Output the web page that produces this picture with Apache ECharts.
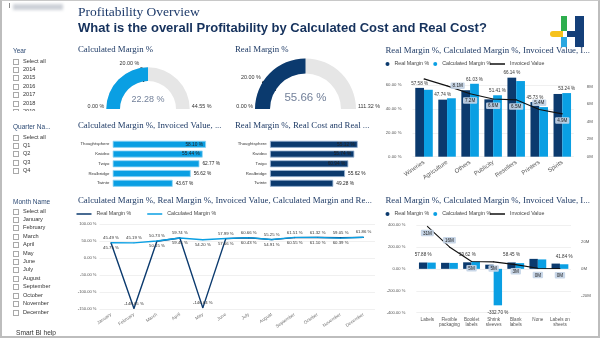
<!DOCTYPE html>
<html>
<head>
<meta charset="utf-8">
<title>Profitability Overview</title>
<script src="https://cdn.jsdelivr.net/npm/echarts@6.0.0/dist/echarts.min.js"></script>
<style>
  html, body { margin: 0; padding: 0; background: #fff; }
  #page { position: relative; width: 600px; height: 340px; overflow: hidden; font-family: "Liberation Sans", Arial, sans-serif; }
  #frame { position: absolute; left: 0; top: 0; width: 596px; height: 335px; border: 2px solid #bdbdbd; border-top: 1px solid #c8c8c8; pointer-events: none; z-index: 5; }
  #chart { position: absolute; left: 0; top: 0; width: 600px; height: 340px; }
  .hdr1 { position: absolute; left: 78px; top: 4px; font-family: "Liberation Serif", "Times New Roman", serif; font-size: 13.5px; line-height: 15px; color: #1d3a6a; white-space: nowrap; z-index: 2; }
  .hdr2 { position: absolute; left: 78px; top: 21px; font-family: "Liberation Sans", Arial, sans-serif; font-weight: bold; font-size: 13px; line-height: 14px; color: #15315c; white-space: nowrap; z-index: 2; }
  .blur { position: absolute; left: 13px; top: 4px; width: 50px; height: 6px; background: #cdd1d8; filter: blur(1.4px); }
  .tick { position: absolute; left: 9px; top: 3px; width: 1px; height: 5px; background: #8a8a8a; }
  .slicer-title { position: absolute; left: 13px; font-size: 6.5px; line-height: 8px; color: #2d4a74; white-space: nowrap; z-index: 2; }
  .row { position: absolute; left: 13px; height: 7px; width: 62px; z-index: 2; }
  .row .box { position: absolute; left: 0; top: 1px; width: 4px; height: 4px; border: 1px solid #a9a9a9; background: #fff; }
  .row .txt { position: absolute; left: 10px; top: 0; font-size: 5.6px; line-height: 7px; color: #333; white-space: nowrap; }
  .help { position: absolute; left: 16px; top: 329px; font-size: 6.6px; line-height: 8px; color: #333; text-decoration: underline; white-space: nowrap; z-index: 2; }
  .logo { position: absolute; z-index: 2; }
</style>
</head>
<body>
<div id="page">
  <div id="chart"></div>
  <div class="tick"></div>
  <div class="blur"></div>
  <div class="hdr1">Profitability Overview</div>
  <div class="hdr2">What is the overall Profitability by Calculated Cost and Real Cost?</div>
  <div class="logo" style="left:561px;top:16px;width:5.5px;height:14.5px;background:#2eae4e;"></div>
  <div class="logo" style="left:550px;top:30.5px;width:13px;height:6px;background:#f6c21c;border-radius:3px 0 0 3px;"></div>
  <div class="logo" style="left:561px;top:36.5px;width:5.5px;height:10px;background:#2aa7e0;"></div>
  <div class="logo" style="left:566.5px;top:30.5px;width:9px;height:6px;background:#143f79;"></div>
  <div class="logo" style="left:575px;top:16px;width:9px;height:30.5px;background:#143f79;"></div>
  <div class="help">Smart BI help</div>
  <div id="frame"></div>
</div>
<script>
// ---- slicer lists ----
const years = ['2014', '2015', '2016', '2017', '2018', '2019'];
const quarters = ['Q1', 'Q2', 'Q3', 'Q4'];
const monthNames = ['January', 'February', 'March', 'April', 'May', 'June', 'July',
  'August', 'September', 'October', 'November', 'December'];

// ---- gauges: Calculated Margin %, Real Margin % ----
const gaugeValues = [22.28, 55.66];
const gaugeMax = [44.55, 111.32];
const gaugeTargets = [20.00, 20.00];

// ---- margin by industry ----
const industries = ['Wineries', 'Agriculture', 'Others', 'Publicity', 'Resellers', 'Printers', 'Spirits'];
const indRealMargin = [57.58, 47.74, 55.60, 48.00, 66.14, 45.73, 52.50];
const indCalcMargin = [56.00, 48.90, 61.03, 51.41, 63.30, 41.50, 53.24];
const indInvoicedM = [8.9, 8.1, 7.2, 6.6, 6.5, 5.4, 4.9];
const indRealLabel = [true, true, false, false, true, true, false];
const indCalcLabel = [false, false, true, true, false, false, true];
const indInvoicedLabelPos = ['', 'right', 'bottom', 'bottom', 'bottom', 'top', 'bottom'];

// ---- margin by customer ----
const customers = ['Thoughtsphere', 'Kwideo', 'Twiyo', 'Realbridge', 'Twinte'];
const custInvoicedM = [9.33, 9.00, 8.67, 7.80, 6.00];
const custCalcMargin = [58.10, 55.44, 62.77, 56.62, 43.67];
const custCalcInside = [true, true, false, false, false];
const custRealCostM = [8.77, 8.43, 7.83, 7.50, 6.33];
const custRealMargin = [55.12, 55.74, 60.94, 55.62, 49.28];
const custRealInside = [true, true, true, false, false];

// ---- margin by month ----
const monthRealMargin = [45.75, -148.65, 50.15, 59.45, -146.64, 57.66, 60.43, 54.91, 60.55, 61.10, 60.39, 61.30];
const monthCalcMargin = [45.49, 45.19, 50.73, 59.74, 54.20, 57.99, 60.66, 55.25, 61.51, 61.32, 59.05, 61.86];
const monthRealLabelPos = ['bottom', 'top', 'bottom', 'bottom', 'top', 'bottom', 'bottom', 'bottom', 'bottom', 'bottom', 'bottom', ''];
const monthCalcLabelPos = ['top', 'top', 'top', 'top', 'bottom', 'top', 'top', 'top', 'top', 'top', 'top', 'top'];

// ---- margin by product type ----
const products = ['Labels', 'Flexible packaging', 'Booklet labels', 'Shrink sleeves', 'Blank labels', 'None', 'Labels on sheets'];
const prodRealMargin = [57.88, 55.00, 59.62, 38.00, 58.45, 91.00, 48.00];
const prodCalcMargin = [57.00, 54.00, 66.00, -332.70, 52.00, 86.00, 41.84];
const prodInvoicedM = [31, 16, 5.4, 5.1, 3.1, 0.4, 0.3];
const prodRealLabel = [true, false, true, false, true, false, false];
const prodCalcLabel = [false, false, false, true, false, false, true];
const prodInvoicedLabelPos = ['bottom', 'top', 'bottom', 'bottom', 'bottom', 'bottom', 'bottom'];

// ---- left-hand slicers ----
const page = document.getElementById('page');
function slicer(title, items, titleY, firstY, step, clipBottom) {
  const t = document.createElement('div');
  t.className = 'slicer-title';
  t.textContent = title;
  t.style.top = (titleY - 4) + 'px';
  page.appendChild(t);
  const top0 = firstY - 5;
  const wrap = document.createElement('div');
  wrap.style.cssText = 'position:absolute;left:0;width:75px;overflow:hidden;z-index:2;top:' + top0 +
    'px;height:' + ((clipBottom || 340) - top0) + 'px;';
  ['Select all'].concat(items).forEach((name, i) => {
    const r = document.createElement('div');
    r.className = 'row';
    r.style.top = (firstY + i * step - 3.5 - top0) + 'px';
    r.innerHTML = '<span class="box"></span><span class="txt"></span>';
    r.querySelector('.txt').textContent = name;
    wrap.appendChild(r);
  });
  page.appendChild(wrap);
}
slicer('Year', years, 51, 61, 8.4, 110.5);
slicer('Quarter Na...', quarters, 127, 137, 8.4);
slicer('Month Name', monthNames, 202, 211, 8.42);

// ---- chart ----
const NAVY = '#0b3a6e', LIGHT = '#0a9fe3', GREY = '#e6e6e6';
const SERIF = '"Liberation Serif", "Times New Roman", serif';
const SANS = '"Liberation Sans", Arial, sans-serif';
const TITLE_COLOR = '#1f3b66';
const LINE_ICON = 'path://M0,0 L30,0 L30,3 L0,3 Z';
const pct = v => v.toFixed(2) + ' %';

const chart = echarts.init(document.getElementById('chart'), null, { renderer: 'canvas' });

function titleAt(text, left, top) {
  return { text, left, top, padding: 0,
    textStyle: { fontFamily: SERIF, fontSize: 8.8, fontWeight: 'normal', color: TITLE_COLOR } };
}
const legendText = { fontFamily: SANS, fontSize: 5.3, color: '#444' };
function circleLegend(left, top) {
  return { left, top, padding: 0, itemWidth: 4, itemHeight: 4, itemGap: 4, selectedMode: false,
    data: [{ name: 'Real Margin %', icon: 'circle' }, { name: 'Calculated Margin %', icon: 'circle' }],
    textStyle: legendText };
}
function lineLegend(left, top, names, gap) {
  return { left, top, padding: 0, itemWidth: 15, itemHeight: 4, itemGap: gap, selectedMode: false,
    data: names.map(n => ({ name: n, icon: LINE_ICON })), textStyle: legendText };
}

// gauges: ring + progress, plus a thin band marking the target
const gaugeLayout = [
  { cx: 148, cy: 109, r: 41.7, w: 13.7, color: LIGHT, size: 9, dy: -9 },
  { cx: 305.5, cy: 109, r: 50.5, w: 15, color: NAVY, size: 11.5, dy: -11 }
];
const gaugeSeries = [];
const gaugeGraphics = [];
gaugeLayout.forEach((g, i) => {
  const mx = gaugeMax[i], t = gaugeTargets[i];
  const hidden = { pointer: { show: false }, axisTick: { show: false }, splitLine: { show: false },
    axisLabel: { show: false }, anchor: { show: false }, title: { show: false } };
  gaugeSeries.push(Object.assign({
    type: 'gauge', center: [g.cx, g.cy], radius: g.r, startAngle: 180, endAngle: 0, min: 0, max: mx,
    axisLine: { lineStyle: { width: g.w, color: [[1, GREY]] } },
    progress: { show: true, width: g.w, itemStyle: { color: g.color } },
    detail: { offsetCenter: [0, g.dy], fontFamily: SANS, fontSize: g.size, color: '#73819a',
      fontWeight: 'normal', formatter: v => pct(v) },
    data: [{ value: gaugeValues[i] }]
  }, hidden));
  const half = 0.9 / (Math.PI * (g.r - g.w / 2));
  const f = t / mx;
  gaugeSeries.push(Object.assign({
    type: 'gauge', center: [g.cx, g.cy], radius: g.r + 0.5, startAngle: 180, endAngle: 0, min: 0, max: mx,
    axisLine: { lineStyle: { width: g.w + 1, color: [[f - half, 'rgba(0,0,0,0)'], [f + half, '#111'], [1, 'rgba(0,0,0,0)']] } },
    detail: { show: false },
    data: [{ value: t }]
  }, hidden));
  const lbl = { fontFamily: SANS, fontSize: 5.4, fill: '#333' };
  const ang = Math.PI * (1 - f);
  gaugeGraphics.push(
    { type: 'text', x: g.cx - g.r - 2, y: g.cy - 2, style: Object.assign({ text: pct(0), align: 'right', verticalAlign: 'middle' }, lbl) },
    { type: 'text', x: g.cx + g.r + 2, y: g.cy - 2, style: Object.assign({ text: pct(mx), align: 'left', verticalAlign: 'middle' }, lbl) },
    { type: 'text', x: g.cx + g.r * Math.cos(ang) - 2, y: g.cy - g.r * Math.sin(ang) - 2,
      style: Object.assign({ text: pct(t), align: 'right', verticalAlign: 'bottom' }, lbl) }
  );
});

const axisLbl = { fontFamily: SANS, color: '#555' };
const gridLine = { show: true, lineStyle: { color: '#ececec', width: 0.8 } };
const noLine = { show: false };
const mLabelBox = { backgroundColor: 'rgba(196,212,230,0.92)', padding: [1, 2, 0.5, 2], borderRadius: 1, color: '#222' };

function flaggedBars(values, flags, posFn) {
  return values.map((v, i) => ({ value: v, label: { show: flags[i], position: posFn ? posFn(v) : 'top' } }));
}
function positionedPoints(values, positions) {
  return values.map((v, i) => ({ value: v, label: { show: positions[i] !== '', position: positions[i] || 'top' } }));
}
const signPos = v => (v < 0 ? 'bottom' : 'top');

const option = {
  animation: false,
  textStyle: { fontFamily: SANS },
  title: [
    titleAt('Calculated Margin %', 78, 45.5),
    titleAt('Real Margin %', 235, 45.5),
    titleAt('Real Margin %, Calculated Margin %, Invoiced Value, I...', 385.5, 46.5),
    titleAt('Calculated Margin %, Invoiced Value, ...', 78, 121.5),
    titleAt('Real Margin %, Real Cost and Real ...', 235, 121.5),
    titleAt('Calculated Margin %, Real Margin %, Invoiced Value, Calculated Margin and Re...', 78, 196.5),
    titleAt('Real Margin %, Calculated Margin %, Invoiced Value, I...', 385.5, 196.5)
  ],
  legend: [
    circleLegend(385.5, 61.5),
    lineLegend(490, 61.5, ['Invoiced Value'], 4),
    lineLegend(76.5, 211.5, ['Real Margin %', 'Calculated Margin %'], 16),
    circleLegend(385.5, 211.5),
    lineLegend(490, 211.5, ['Invoiced Value'], 4)
  ],
  grid: [
    { left: 412.5, top: 85, width: 161.3, height: 71.7, outerBoundsMode: 'none' },
    { left: 112.7, top: 139.4, width: 100, height: 48.75, outerBoundsMode: 'none' },
    { left: 270, top: 139.4, width: 100, height: 48.75, outerBoundsMode: 'none' },
    { left: 99.5, top: 224.3, width: 275.5, height: 84.7, outerBoundsMode: 'none' },
    { left: 416.3, top: 225, width: 154.7, height: 87.7, outerBoundsMode: 'none' }
  ],
  xAxis: [
    { type: 'category', gridIndex: 0, data: industries, axisLine: noLine, axisTick: noLine,
      axisLabel: Object.assign({ rotate: 35, fontSize: 6, margin: 5, interval: 0 }, axisLbl) },
    { type: 'value', gridIndex: 1, min: 0, max: 10, show: false },
    { type: 'value', gridIndex: 2, min: 0, max: 10, show: false },
    { type: 'category', gridIndex: 3, data: monthNames, axisLine: { show: false, onZero: false }, axisTick: noLine,
      axisLabel: Object.assign({ rotate: 35, fontSize: 4.6, margin: 5, interval: 0, color: '#777' }, { fontFamily: SANS }) },
    { type: 'category', gridIndex: 4, data: products, axisLine: { show: false, onZero: false }, axisTick: noLine,
      axisLabel: Object.assign({ fontSize: 4.6, lineHeight: 5.5, margin: 4, interval: 0,
        formatter: s => { const w = s.split(' '); return w.length < 2 ? s : w.slice(0, -1).join(' ') + '\n' + w[w.length - 1]; } }, axisLbl) }
  ],
  yAxis: [
    { type: 'value', gridIndex: 0, min: 0, max: 60, interval: 20, axisLine: noLine, axisTick: noLine, splitLine: gridLine,
      axisLabel: Object.assign({ fontSize: 4.3, margin: 11, formatter: pct }, axisLbl) },
    { type: 'value', gridIndex: 0, position: 'right', min: 0, max: 8.2, interval: 2, axisLine: noLine, axisTick: noLine,
      splitLine: noLine,
      axisLabel: Object.assign({ fontSize: 4.3, margin: 13, align: 'left',
        formatter: v => (Math.abs(v % 2) < 1e-9 ? v + 'M' : '') }, axisLbl) },
    { type: 'category', gridIndex: 1, data: customers, inverse: true, axisLine: noLine, axisTick: noLine,
      axisLabel: Object.assign({ fontSize: 4.3, margin: 3.4, color: '#333' }, { fontFamily: SANS }) },
    { type: 'category', gridIndex: 2, data: customers, inverse: true, axisLine: noLine, axisTick: noLine,
      axisLabel: Object.assign({ fontSize: 4.3, margin: 3.4, color: '#333' }, { fontFamily: SANS }) },
    { type: 'value', gridIndex: 3, min: -150, max: 100, interval: 50, axisLine: noLine, axisTick: noLine, splitLine: gridLine,
      axisLabel: Object.assign({ fontSize: 4.1, margin: 3, formatter: pct }, axisLbl) },
    { type: 'value', gridIndex: 4, min: -400, max: 400, interval: 200, axisLine: noLine, axisTick: noLine, splitLine: gridLine,
      axisLabel: Object.assign({ fontSize: 4.1, margin: 11, formatter: pct }, axisLbl) },
    { type: 'value', gridIndex: 4, position: 'right', min: -32, max: 32, interval: 4, axisLine: noLine, axisTick: noLine,
      splitLine: noLine,
      axisLabel: Object.assign({ fontSize: 4.3, margin: 10, align: 'left',
        formatter: v => (v % 20 === 0 ? v + 'M' : '') }, axisLbl) }
  ],
  series: [
    // industry: bars on the left axis, invoiced value on the right axis
    { type: 'bar', name: 'Real Margin %', xAxisIndex: 0, yAxisIndex: 0, barGap: '0%', barCategoryGap: '24%', clip: false,
      itemStyle: { color: NAVY },
      label: { show: false, formatter: p => pct(p.value), fontSize: 4.6, distance: 2, color: '#333' },
      data: flaggedBars(indRealMargin, indRealLabel) },
    { type: 'bar', name: 'Calculated Margin %', xAxisIndex: 0, yAxisIndex: 0, barGap: '0%', barCategoryGap: '24%', clip: false,
      itemStyle: { color: LIGHT },
      label: { show: false, formatter: p => pct(p.value), fontSize: 4.6, distance: 2, color: '#333' },
      data: flaggedBars(indCalcMargin, indCalcLabel) },
    { type: 'line', name: 'Invoiced Value', xAxisIndex: 0, yAxisIndex: 1, clip: false, symbol: 'circle', symbolSize: 1,
      lineStyle: { color: '#111', width: 1.1 }, itemStyle: { color: '#111' },
      label: Object.assign({ show: true, fontSize: 4.6, distance: 3, formatter: p => p.value.toFixed(1) + 'M' }, mLabelBox),
      data: positionedPoints(indInvoicedM, indInvoicedLabelPos) },
    // customers
    { type: 'bar', name: 'Customer Invoiced Value', xAxisIndex: 1, yAxisIndex: 2, barWidth: 7,
      itemStyle: { color: LIGHT, borderColor: '#8fd4f5', borderWidth: 0.8 },
      label: { show: true, fontSize: 4.8, color: '#222', distance: 3, formatter: p => pct(custCalcMargin[p.dataIndex]) },
      data: custInvoicedM.map((v, i) => ({ value: v, label: { position: custCalcInside[i] ? 'insideRight' : 'right' } })) },
    { type: 'bar', name: 'Customer Real Cost', xAxisIndex: 2, yAxisIndex: 3, barWidth: 7,
      itemStyle: { color: NAVY, borderColor: '#9db8d6', borderWidth: 0.8 },
      label: { show: true, fontSize: 4.8, color: '#222', distance: 3, formatter: p => pct(custRealMargin[p.dataIndex]) },
      data: custRealCostM.map((v, i) => ({ value: v, label: { position: custRealInside[i] ? 'insideRight' : 'right' } })) },
    // months
    { type: 'line', name: 'Real Margin %', xAxisIndex: 3, yAxisIndex: 4, clip: false, symbol: 'circle', symbolSize: 1,
      lineStyle: { color: NAVY, width: 1.4 }, itemStyle: { color: NAVY },
      label: { show: true, fontSize: 4.3, distance: 2.5, color: '#333', formatter: p => pct(p.value) },
      data: positionedPoints(monthRealMargin, monthRealLabelPos) },
    { type: 'line', name: 'Calculated Margin %', xAxisIndex: 3, yAxisIndex: 4, clip: false, symbol: 'circle', symbolSize: 1,
      lineStyle: { color: LIGHT, width: 1.4 }, itemStyle: { color: LIGHT },
      label: { show: true, fontSize: 4.3, distance: 2.5, color: '#333', formatter: p => pct(p.value) },
      data: positionedPoints(monthCalcMargin, monthCalcLabelPos) },
    // product types
    { type: 'bar', name: 'Real Margin %', xAxisIndex: 4, yAxisIndex: 5, barGap: '0%', barCategoryGap: '24%', clip: false,
      itemStyle: { color: NAVY },
      label: { show: false, formatter: p => pct(p.value), fontSize: 4.6, distance: 5, color: '#333' },
      data: flaggedBars(prodRealMargin, prodRealLabel, signPos) },
    { type: 'bar', name: 'Calculated Margin %', xAxisIndex: 4, yAxisIndex: 5, barGap: '0%', barCategoryGap: '24%', clip: false,
      itemStyle: { color: LIGHT },
      label: { show: false, formatter: p => pct(p.value), fontSize: 4.6, distance: 5, color: '#333' },
      data: flaggedBars(prodCalcMargin, prodCalcLabel, signPos) },
    { type: 'line', name: 'Invoiced Value', xAxisIndex: 4, yAxisIndex: 6, clip: false, symbol: 'circle', symbolSize: 1,
      lineStyle: { color: '#111', width: 1.1 }, itemStyle: { color: '#111' },
      label: Object.assign({ show: true, fontSize: 4.6, distance: 3, formatter: p => p.value.toFixed(0) + 'M' }, mLabelBox),
      data: positionedPoints(prodInvoicedM, prodInvoicedLabelPos) }
  ].concat(gaugeSeries),
  graphic: gaugeGraphics
};
chart.setOption(option);
</script>
</body>
</html>
